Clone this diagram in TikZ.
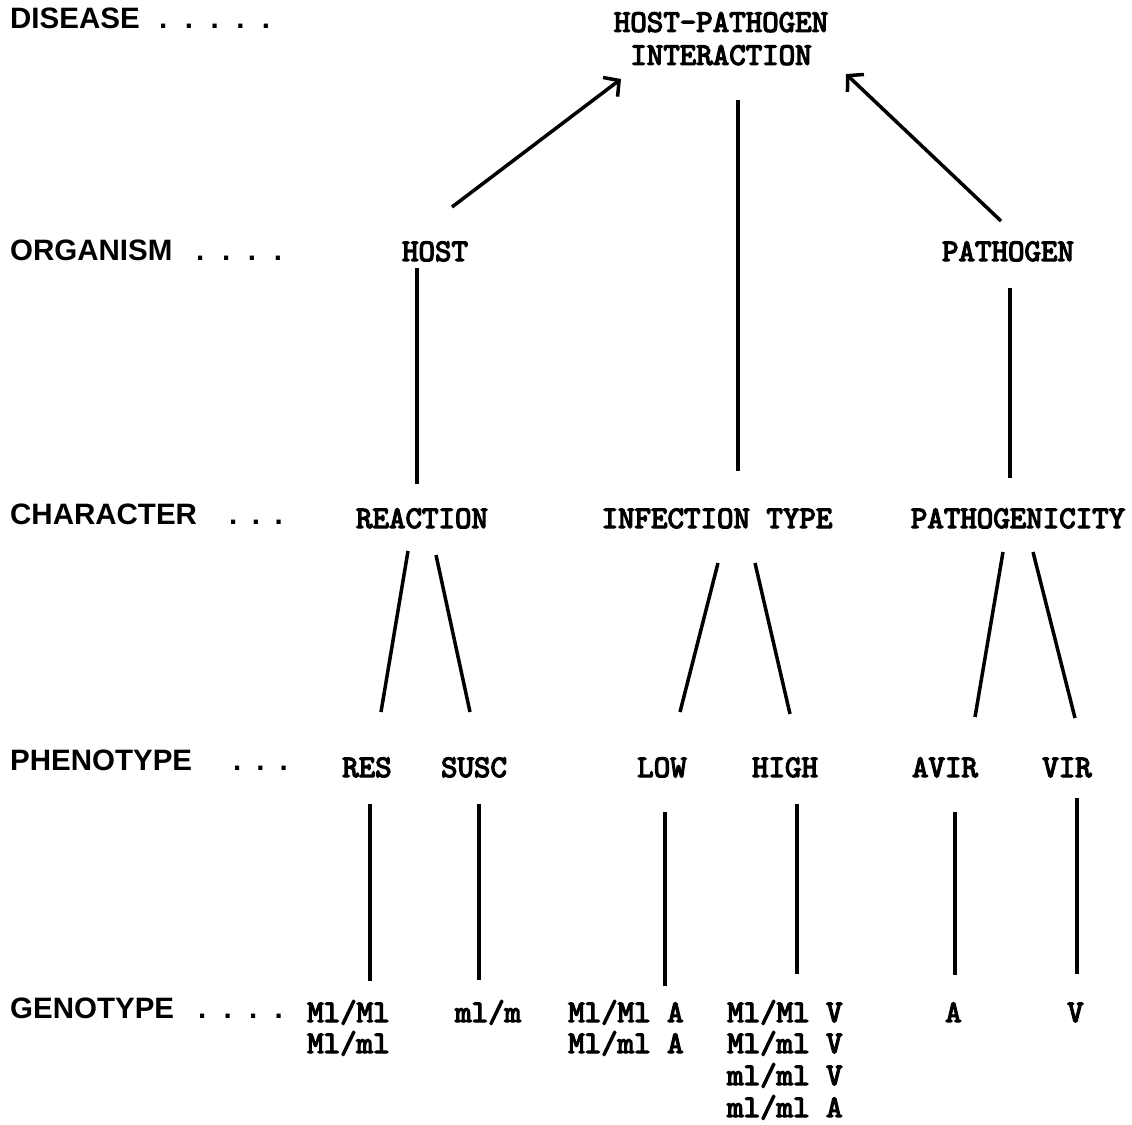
\documentclass[tikz,border=0pt]{standalone}
\usepackage{fontspec}
\newfontfamily\lblfont{Liberation Sans}
\newfontfamily\twfont{lmmono10-regular}[Extension=.otf, FakeBold=4]
\usetikzlibrary{arrows.meta}
\begin{document}
\begin{tikzpicture}[x=1pt,y=1pt,
  tw/.style={font=\twfont\fontsize{31.4}{33}\selectfont, inner sep=0pt},
  lbl/.style={font=\lblfont\bfseries\fontsize{29.5}{33}\selectfont, inner sep=0pt, anchor=base west},
  conn/.style={line width=3.5pt},
  arr/.style={conn, -{Straight Barb[length=11pt,width=24pt]}}]
\useasboundingbox (0,0) rectangle (1132,-1124);
% level labels
\node[lbl] (disease) at (10,-29) {\makebox[149pt][l]{DISEASE}.\hspace{17.5pt}.\hspace{17.5pt}.\hspace{17.5pt}.\hspace{17.5pt}.};
\node[lbl] (organism) at (10,-260) {\makebox[186pt][l]{ORGANISM}.\hspace{17.7pt}.\hspace{17.7pt}.\hspace{17.7pt}.};
\node[lbl] (character) at (10,-524) {\makebox[219pt][l]{CHARACTER}.\hspace{14.5pt}.\hspace{14.5pt}.};
\node[lbl] (phenotype) at (10,-770) {\makebox[223pt][l]{PHENOTYPE}.\hspace{15pt}.\hspace{15pt}.};
\node[lbl] (genotype) at (10,-1018) {\makebox[188pt][l]{GENOTYPE}.\hspace{17.3pt}.\hspace{17.3pt}.\hspace{17.3pt}.};
% diagram nodes
\node[tw, anchor=south, align=center, text depth=0pt] (hp) at (721,-65) {HOST-PATHOGEN\\INTERACTION};
\node[tw, anchor=base] (host) at (435,-261) {HOST};
\node[tw, anchor=base] (path) at (1008,-261) {PATHOGEN};
\node[tw, anchor=base] (reaction) at (422,-528) {REACTION};
\node[tw, anchor=base] (inf) at (717,-528) {INFECTION TYPE};
\node[tw, anchor=base] (pgen) at (1018,-528) {PATHOGENICITY};
\node[tw, anchor=base] (res) at (367,-777) {RES};
\node[tw, anchor=base] (susc) at (474,-777) {SUSC};
\node[tw, anchor=base] (low) at (662,-777) {LOW};
\node[tw, anchor=base] (high) at (785,-777) {HIGH};
\node[tw, anchor=base] (avir) at (945,-777) {AVIR};
\node[tw, anchor=base] (vir) at (1067,-777) {VIR};
% genotypes
\node[tw, anchor=base west] (g1a) at (307,-1022) {Ml/Ml};
\node[tw, anchor=base west] (g1b) at (307,-1053) {Ml/ml};
\node[tw, anchor=base west] (g2) at (455,-1022) {ml/m};
\node[tw, anchor=base west] (g3a) at (568,-1022) {Ml/Ml A};
\node[tw, anchor=base west] (g3b) at (568,-1053) {Ml/ml A};
\node[tw, anchor=base west] (g4a) at (727,-1022) {Ml/Ml V};
\node[tw, anchor=base west] (g4b) at (727,-1053) {Ml/ml V};
\node[tw, anchor=base west] (g4c) at (727,-1085) {ml/ml V};
\node[tw, anchor=base west] (g4d) at (727,-1117) {ml/ml A};
\node[tw, anchor=base west] (g5) at (945,-1022) {A};
\node[tw, anchor=base west] (g6) at (1067,-1022) {V};
% connectors
\draw[arr] ([shift={(17,54)}]host.base) -- ([shift={(-100,-14)}]hp.south);
\draw[conn] ([shift={(21,57)}]inf.base) -- ([shift={(17,-35)}]hp.south);
\draw[arr] ([shift={(-7,40)}]path.base) -- ([shift={(125,-9)}]hp.south);
\draw[conn] ([shift={(-18,-7)}]host.base) -- ([shift={(-5,44)}]reaction.base);
\draw[conn] ([shift={(2,-27)}]path.base) -- ([shift={(-8,50)}]pgen.base);
\draw[conn] ([shift={(-14,-23)}]reaction.base) -- ([shift={(14,65)}]res.base);
\draw[conn] ([shift={(14,-27)}]reaction.base) -- ([shift={(-4,65)}]susc.base);
\draw[conn] ([shift={(1,-35)}]inf.base) -- ([shift={(18,65)}]low.base);
\draw[conn] ([shift={(38,-35)}]inf.base) -- ([shift={(5,63)}]high.base);
\draw[conn] ([shift={(-15,-24)}]pgen.base) -- ([shift={(30,60)}]avir.base);
\draw[conn] ([shift={(15,-24)}]pgen.base) -- ([shift={(8,59)}]vir.base);
\draw[conn] ([shift={(3,-27)}]res.base) -- ([shift={(63,41)}]g1a.base west);
\draw[conn] ([shift={(5,-27)}]susc.base) -- ([shift={(24,42)}]g2.base west);
\draw[conn] ([shift={(3,-35)}]low.base) -- ([shift={(97,36)}]g3a.base west);
\draw[conn] ([shift={(12,-27)}]high.base) -- ([shift={(70,48)}]g4a.base west);
\draw[conn] ([shift={(10,-35)}]avir.base) -- ([shift={(10,47)}]g5.base west);
\draw[conn] ([shift={(10,-21)}]vir.base) -- ([shift={(10,48)}]g6.base west);
\end{tikzpicture}
\end{document}
